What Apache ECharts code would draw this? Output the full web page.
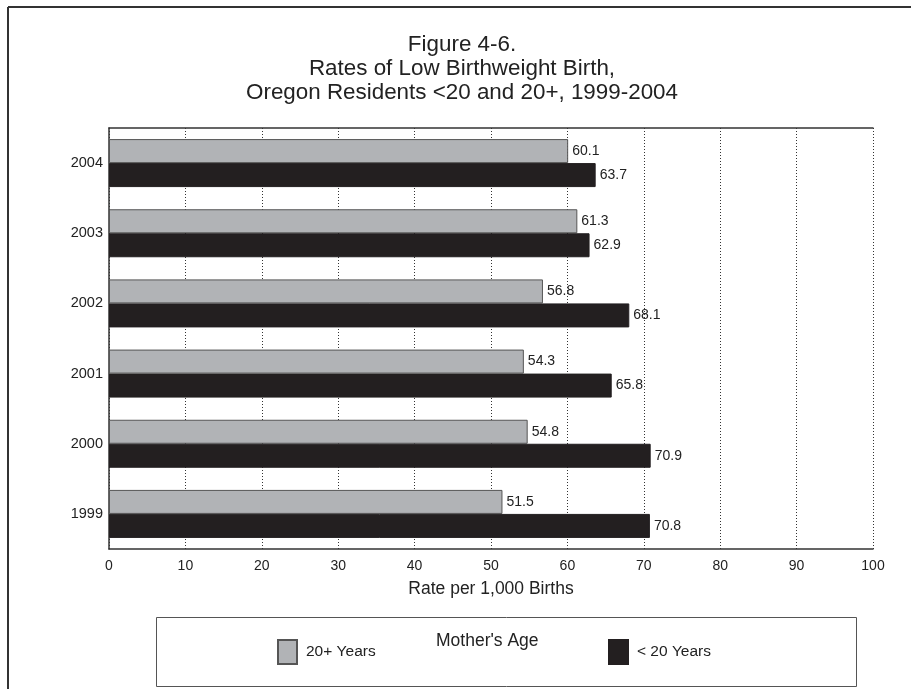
<!DOCTYPE html>
<html>
<head>
<meta charset="utf-8">
<script src="https://cdn.jsdelivr.net/npm/echarts@6/dist/echarts.min.js"></script>
<style>
  html, body { margin: 0; padding: 0; background: #fff; }
  #chart { width: 911px; height: 689px; }
</style>
</head>
<body>
<div id="chart"></div>
<script>
// Low birthweight rates per 1,000 births, Oregon residents, by mother's age
const years = ['1999', '2000', '2001', '2002', '2003', '2004'];
const age20plus = [51.5, 54.8, 54.3, 56.8, 61.3, 60.1];
const ageUnder20 = [70.8, 70.9, 65.8, 68.1, 62.9, 63.7];
const xTicks = [0, 10, 20, 30, 40, 50, 60, 70, 80, 90, 100];

const FONT = 'Liberation Sans, Arial, sans-serif';
const INK = '#231f20';
const GRAY = '#b1b3b6';

const chart = echarts.init(document.getElementById('chart'), null, { renderer: 'canvas' });

const labelStyle = {
  show: true,
  position: 'right',
  distance: 4,
  fontFamily: FONT,
  fontSize: 14,
  color: '#222',
  formatter: p => p.value.toFixed(1)
};

const legendText = { fontFamily: FONT, fontSize: 15.5, color: '#222', padding: [0, 0, 0, 4] };

chart.setOption({
  animation: false,
  backgroundColor: '#fff',
  title: {
    text: 'Figure 4-6.\nRates of Low Birthweight Birth,\nOregon Residents <20 and 20+, 1999-2004',
    left: 462,
    top: 33,
    padding: 0,
    textAlign: 'center',
    textStyle: { fontFamily: FONT, fontSize: 22.4, fontWeight: 'normal', color: '#222', lineHeight: 24 }
  },
  grid: { left: 109, right: 38, top: 128, bottom: 140, containLabel: false },
  legend: [
    {
      data: ['20+ Years'],
      icon: 'rect',
      left: 277, top: 639,
      padding: 0,
      itemWidth: 19, itemHeight: 24, itemGap: 8,
      textStyle: legendText,
      selectedMode: false
    },
    {
      data: ['< 20 Years'],
      icon: 'rect',
      left: 608, top: 639,
      padding: 0,
      itemWidth: 19, itemHeight: 24, itemGap: 8,
      textStyle: legendText,
      selectedMode: false
    }
  ],
  xAxis: [
    {
      type: 'value',
      min: xTicks[0],
      max: xTicks[xTicks.length - 1],
      interval: xTicks[1] - xTicks[0],
      position: 'bottom',
      name: 'Rate per 1,000 Births',
      nameLocation: 'middle',
      nameGap: 31,
      nameTextStyle: { fontFamily: FONT, fontSize: 17.5, color: '#222' },
      axisLine: { show: true, lineStyle: { color: '#333', width: 1.5 } },
      axisTick: { show: false },
      axisLabel: { fontFamily: FONT, fontSize: 14, color: '#222', margin: 10 },
      splitLine: { show: true, lineStyle: { color: '#333', type: [1, 2], width: 1 } }
    },
    {
      type: 'value',
      min: xTicks[0],
      max: xTicks[xTicks.length - 1],
      interval: xTicks[1] - xTicks[0],
      position: 'top',
      axisLine: { show: true, lineStyle: { color: '#333', width: 1.5 } },
      axisTick: { show: false },
      axisLabel: { show: false },
      splitLine: { show: false }
    }
  ],
  yAxis: {
    type: 'category',
    data: years,
    axisLine: { show: true, lineStyle: { color: '#333', width: 1.5 } },
    axisTick: { show: false },
    axisLabel: { fontFamily: FONT, fontSize: 14.5, color: '#222', margin: 6 },
    splitLine: { show: false }
  },
  series: [
    {
      name: '20+ Years',
      type: 'bar',
      data: age20plus,
      barWidth: 24,
      barGap: '0%',
      itemStyle: { color: GRAY, borderColor: '#555', borderWidth: 1 },
      label: labelStyle
    },
    {
      name: '< 20 Years',
      type: 'bar',
      data: ageUnder20,
      barWidth: 24,
      barGap: '0%',
      itemStyle: { color: INK, borderColor: INK, borderWidth: 1 },
      label: labelStyle
    }
  ],
  graphic: [
    // page frame (top and left rules)
    { type: 'line', shape: { x1: 8, y1: 7, x2: 911, y2: 7 }, style: { stroke: '#333', lineWidth: 2 } },
    { type: 'line', shape: { x1: 8, y1: 7, x2: 8, y2: 689 }, style: { stroke: '#333', lineWidth: 2 } },
    // legend box
    { type: 'rect', shape: { x: 156.5, y: 617.5, width: 700, height: 69 }, style: { fill: 'none', stroke: '#555', lineWidth: 1 }, z: -1 },
    { type: 'text', left: 436, top: 632, style: { text: "Mother's Age", font: '17.5px ' + FONT, fill: '#222' } }
  ]
});
</script>
</body>
</html>
